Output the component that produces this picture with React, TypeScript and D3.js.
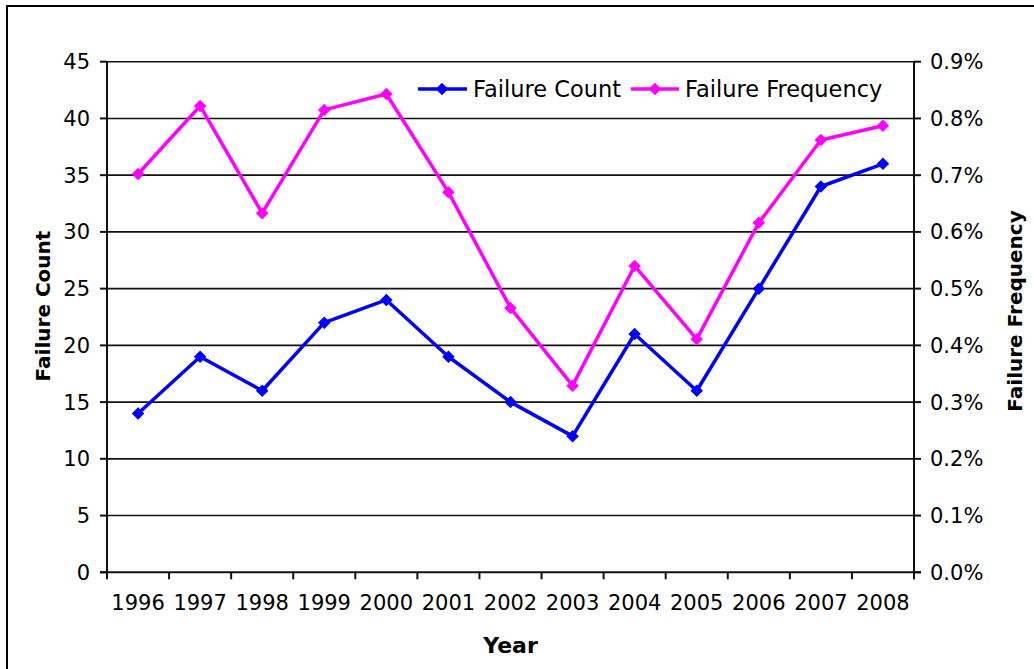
import React from "react";
import * as d3 from "d3";

const years = ["1996","1997","1998","1999","2000","2001","2002","2003","2004","2005","2006","2007","2008"];
const failureCount = [14, 19, 16, 22, 24, 19, 15, 12, 21, 16, 25, 34, 36];
const failureFrequency = [0.702, 0.822, 0.633, 0.815, 0.843, 0.670, 0.466, 0.329, 0.540, 0.411, 0.616, 0.762, 0.787]; // percent
const leftTicks = [0, 5, 10, 15, 20, 25, 30, 35, 40, 45];
const rightTicks = [0, 0.1, 0.2, 0.3, 0.4, 0.5, 0.6, 0.7, 0.8, 0.9];

const W = 1034, H = 669;
const X0 = 107, X1 = 914, YT = 61.7, YB = 572.3;
const FONT = "Verdana, 'DejaVu Sans', sans-serif";
const BLUE = "#0000FF", MAG = "#FF00FF";

export default function App() {
  const x = d3.scaleBand<string>().domain(years).range([X0, X1]).padding(0);
  const yL = d3.scaleLinear().domain([0, 45]).range([YB, YT]);
  const yR = d3.scaleLinear().domain([0, 0.9]).range([YB, YT]);
  const cx = (y: string) => (x(y) as number) + x.bandwidth() / 2;

  const lineL = d3.line<number>().x((_, i) => cx(years[i])).y(d => yL(d));
  const lineR = d3.line<number>().x((_, i) => cx(years[i])).y(d => yR(d));
  const diamond = d3.symbol().type(d3.symbolSquare).size(78)() as string;

  const boundaries = years.map(y => x(y) as number).concat([X1]);

  return (
    <svg width={W} height={H} style={{ position: "absolute", left: 0, top: 0, background: "#fff" }} fontFamily={FONT}>
      <rect x={7} y={6} width={1100} height={800} fill="#fff" stroke="#000" strokeWidth={2} />
      {/* gridlines */}
      {leftTicks.filter(t => t > 0).map(t => (
        <line key={t} x1={X0} x2={X1} y1={yL(t)} y2={yL(t)} stroke="#111" strokeWidth={1.6} />
      ))}
      {/* axes */}
      <line x1={X0} x2={X0} y1={YT} y2={YB + 1} stroke="#111" strokeWidth={2} />
      <line x1={X1} x2={X1} y1={YT} y2={YB + 7} stroke="#111" strokeWidth={2} />
      <line x1={X0 - 7} x2={X1 + 7} y1={YB} y2={YB} stroke="#111" strokeWidth={2} />
      {leftTicks.map(t => (
        <g key={"l" + t}>
          <line x1={X0 - 7} x2={X0} y1={yL(t)} y2={yL(t)} stroke="#111" strokeWidth={2} />
          <text x={X0 - 17} y={yL(t)} dy="0.36em" textAnchor="end" fontSize={21} fill="#000">{t}</text>
        </g>
      ))}
      {rightTicks.map(t => (
        <g key={"r" + t}>
          <line x1={X1} x2={X1 + 7} y1={yR(t)} y2={yR(t)} stroke="#111" strokeWidth={2} />
          <text x={X1 + 16} y={yR(t)} dy="0.36em" textAnchor="start" fontSize={21} fill="#000">{t.toFixed(1) + "%"}</text>
        </g>
      ))}
      {boundaries.map((b, i) => (
        <line key={"xt" + i} x1={b} x2={b} y1={YB} y2={YB + 7} stroke="#111" strokeWidth={2} />
      ))}
      {years.map(y => (
        <text key={"xl" + y} x={cx(y)} y={610} textAnchor="middle" fontSize={21} fill="#000">{y}</text>
      ))}
      {/* axis titles */}
      <text x={(X0 + X1) / 2} y={653} textAnchor="middle" fontSize={22} fontWeight="bold">Year</text>
      <text transform={`translate(50,306) rotate(-90)`} textAnchor="middle" fontSize={20} fontWeight="bold">Failure Count</text>
      <text transform={`translate(1022,311) rotate(-90)`} textAnchor="middle" fontSize={20} fontWeight="bold">Failure Frequency</text>
      {/* series */}
      <path d={lineR(failureFrequency) as string} fill="none" stroke={MAG} strokeWidth={3.5} strokeLinejoin="round" />
      {failureFrequency.map((v, i) => (
        <path key={"m" + i} d={diamond} transform={`translate(${cx(years[i])},${yR(v)}) rotate(45)`} fill={MAG} />
      ))}
      <path d={lineL(failureCount) as string} fill="none" stroke={BLUE} strokeWidth={3.5} strokeLinejoin="round" />
      {failureCount.map((v, i) => (
        <path key={"b" + i} d={diamond} transform={`translate(${cx(years[i])},${yL(v)}) rotate(45)`} fill={BLUE} />
      ))}
      {/* legend */}
      <g>
        <line x1={418} x2={467} y1={89} y2={89} stroke={BLUE} strokeWidth={3.5} />
        <path d={diamond} transform="translate(442,89) rotate(45)" fill={BLUE} />
        <text x={473} y={97} fontSize={22.5} fill="#000">Failure Count</text>
        <line x1={631} x2={679} y1={89} y2={89} stroke={MAG} strokeWidth={3.5} />
        <path d={diamond} transform="translate(655,89) rotate(45)" fill={MAG} />
        <text x={685} y={97} fontSize={22.5} fill="#000">Failure Frequency</text>
      </g>
    </svg>
  );
}
